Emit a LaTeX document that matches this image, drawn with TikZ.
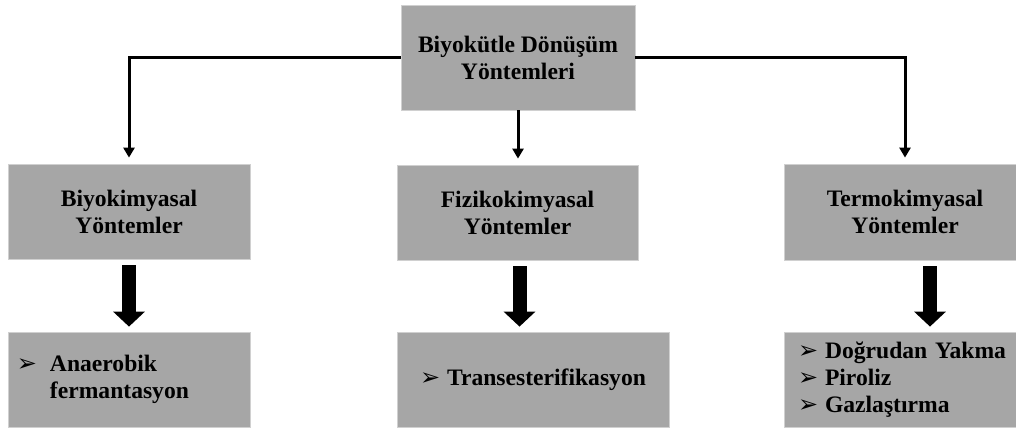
\documentclass[tikz,border=0pt]{standalone}
\usepackage{fontspec}
\setmainfont{Liberation Serif}
\newfontfamily\symfont{DejaVu Sans}
\usetikzlibrary{arrows.meta,positioning}
\definecolor{BoxFill}{HTML}{A6A6A6}
\definecolor{BoxEdge}{HTML}{D0D0D0}
\newcommand{\itm}[1][13.5pt]{\makebox[#1][l]{\symfont\fontsize{12}{12}\selectfont\char"27A2}}
\tikzset{
  box/.style={draw=BoxEdge,line width=0.4pt,fill=BoxFill,align=center,inner sep=0pt,font=\fontsize{11.8}{13.5}\selectfont\bfseries},
  leaf/.style={box,align=left,inner xsep=4.5pt},
  thin/.style={-{Triangle[length=5pt,width=5.5pt]},line width=1.5pt,draw=black},
  fat/.style={-{Triangle[length=7.5pt,width=15.5pt]},line width=7pt,draw=black},
}
\begin{document}
\begin{tikzpicture}[x=0.5pt,y=-0.5pt]
 \useasboundingbox (0,0) rectangle (1016,430);
 \clip (0,0) rectangle (1016,430);
 % upper row
 \node[box,minimum width=117pt,minimum height=52.5pt] (top) at (518,57.5) {Biyokütle Dönüşüm\\Yöntemleri};
 \node[box,minimum width=121pt,minimum height=47.5pt] (lb) at (129,211.5) {Biyokimyasal\\Yöntemler};
 \node[box,minimum width=120.5pt,minimum height=47.5pt] (mb) at (517.5,212.5) {Fizikokimyasal\\Yöntemler};
 \node[box,minimum width=121pt,minimum height=48pt] (rb) at (905,212) {Termokimyasal\\Yöntemler};
 % lower row
 \node[leaf,text width=112pt,minimum height=47.5pt] (lbb) at (129,379.5) {\itm[16.5pt]Anaerobik\\\hspace*{16.5pt}fermantasyon};
 \node[box,minimum width=136pt,minimum height=47.5pt] (mbb) at (533,379.5) {\itm Transesterifikasyon};
 \node[leaf,inner xsep=7pt,text width=107pt,minimum height=47.5pt] (rbb) at (905,379.5) {\itm Doğrudan~Yakma\\\itm Piroliz\\\itm Gazlaştırma};
 % connectors
 \draw[thin,shorten >=3pt] (top.west) -| (lb.north);
 \draw[thin,shorten >=3pt] (top.south) -- (top.south |- mb.north);
 \draw[thin,shorten >=3pt] (top.east) -| (rb.north);
 \draw[fat,shorten <=3pt,shorten >=2.5pt] (lb.south) -- (lb.south |- lbb.north);
 \draw[fat,shorten <=3pt,shorten >=2.5pt] ([xshift=1pt]mb.south) -- ([xshift=1pt]mb.south |- mbb.north);
 \draw[fat,shorten <=3pt,shorten >=2.5pt] ([xshift=12.5pt]rb.south) -- ([xshift=12.5pt]rb.south |- rbb.north);
\end{tikzpicture}
\end{document}
